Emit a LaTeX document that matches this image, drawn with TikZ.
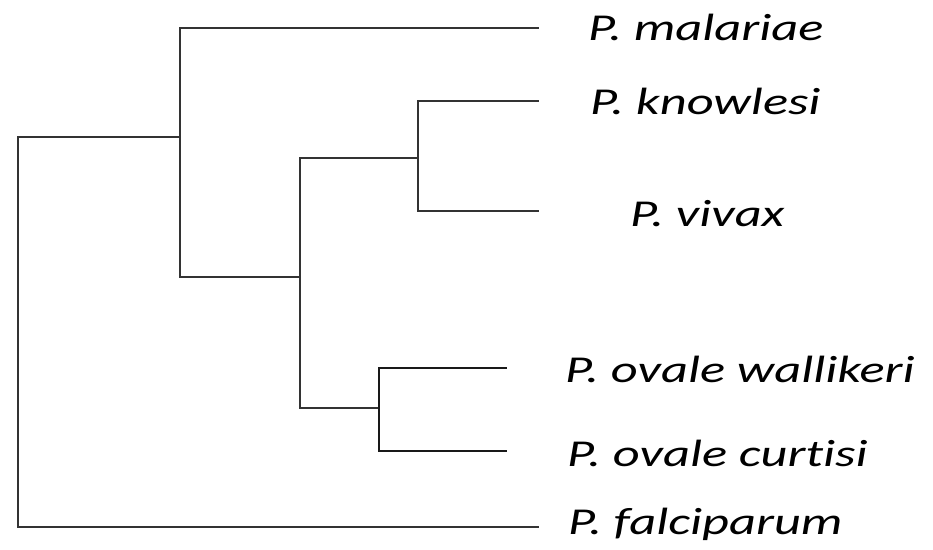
\documentclass[tikz,border=0pt]{standalone}
\usepackage{fontspec}
\setmainfont{Carlito}[Ligatures={NoCommon}]
\newcommand\widetext[1]{\scalebox{1.38}[1]{#1}}
\begin{document}
\begin{tikzpicture}[x=1pt,y=-1pt,
  branch/.style={draw=black!80,line width=1.3pt,line cap=rect},
  thickbranch/.style={draw=black!90,line width=2pt,line cap=rect},
  taxon/.style={anchor=base west,inner sep=0pt,font=\fontsize{38}{44}\selectfont\itshape}]
\useasboundingbox (0,0) rectangle (933,549);
% corners
\coordinate (rt) at (18,137);
\coordinate (rb) at (18,527);
\coordinate (at) at (180,28);
\coordinate (ab) at (180,277);
\coordinate (am) at (180,137);
\coordinate (bt) at (300,158);
\coordinate (bb) at (300,408);
\coordinate (bm) at (300,277);
\coordinate (ct) at (418,101);
\coordinate (cb) at (418,211);
\coordinate (cm) at (418,158);
\coordinate (dt) at (379,368);
\coordinate (db) at (379,451);
\coordinate (dm) at (379,408);
% leaf ends
\coordinate (emal) at (538,28);
\coordinate (ekno) at (538,101);
\coordinate (eviv) at (538,211);
\coordinate (ewal) at (506,368);
\coordinate (ecur) at (506,451);
\coordinate (efal) at (538,527);
% labels
\node[taxon] (lmal) at (588,40) {\widetext{P. malariae}};
\node[taxon] (lkno) at (590,114) {\widetext{P. knowlesi}};
\node[taxon] (lviv) at (630,226) {\widetext{P. vivax}};
\node[taxon] (lwal) at (565,382) {\widetext{P. ovale wallikeri}};
\node[taxon] (lcur) at (567,466) {\widetext{P. ovale curtisi}};
\node[taxon] (lfal) at (568,534) {\widetext{P. falciparum}};
% branches
\draw[branch] (am) -- (rt) -- (rb) -- (efal);
\draw[branch] (emal) -- (at) -- (ab) -- (bm);
\draw[branch] (ekno) -- (ct) -- (cb) -- (eviv);
\draw[branch] (cm) -- (bt) -- (bb) -- (dm);
\draw[thickbranch] (ewal) -- (dt) -- (db) -- (ecur);
\end{tikzpicture}
\end{document}
